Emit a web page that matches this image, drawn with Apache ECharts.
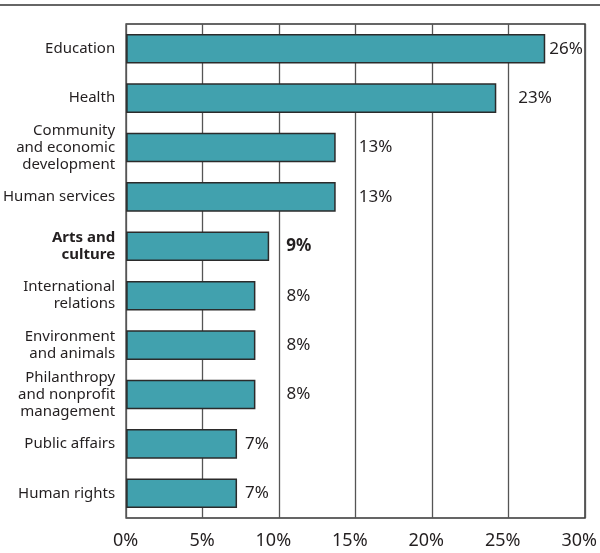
<!DOCTYPE html>
<html>
<head>
<meta charset="utf-8">
<script src="https://cdn.jsdelivr.net/npm/echarts@6/dist/echarts.min.js"></script>
<style>
html,body{margin:0;padding:0;background:#fff;}
#chart{width:600px;height:553px;}
</style>
</head>
<body>
<div id="chart"></div>
<script>
// ---- data ----
var categories = [
  'Education',
  'Health',
  'Community\nand economic\ndevelopment',
  'Human services',
  'Arts and\nculture',
  'International\nrelations',
  'Environment\nand animals',
  'Philanthropy\nand nonprofit\nmanagement',
  'Public affairs',
  'Human rights'
];
var barValues = [27.4, 24.2, 13.7, 13.7, 9.35, 8.45, 8.45, 8.45, 7.25, 7.25];
var shareLabels = ['26%', '23%', '13%', '13%', '9%', '8%', '8%', '8%', '7%', '7%'];
var highlightCategory = 'Arts and\nculture';
var xTickValues = [0, 5, 10, 15, 20, 25, 30];

// ---- styling ----
var labelGaps = [4, 22, 23, 23, 17, 31, 31, 31, 8, 8];
var FONT = '"Noto Sans", "Open Sans", sans-serif';
var TEXT = '#231f20';

var seriesData = barValues.map(function (v, i) {
  var bold = categories[i] === highlightCategory;
  return {
    value: v,
    label: {
      distance: labelGaps[i],
      fontWeight: bold ? 'bold' : 'normal'
    }
  };
});

var chart = echarts.init(document.getElementById('chart'), null, {renderer: 'canvas'});
chart.setOption({
  animation: false,
  backgroundColor: '#fff',
  textStyle: {fontFamily: FONT},
  grid: {
    left: 125, right: 13, top: 24, bottom: 35,
    show: true, borderColor: '#333', borderWidth: 1.5, backgroundColor: 'transparent'
  },
  graphic: [{
    type: 'line',
    shape: {x1: 0, y1: 5, x2: 600, y2: 5},
    style: {stroke: '#333', lineWidth: 1.5}
  }],
  xAxis: {
    type: 'value',
    min: xTickValues[0],
    max: xTickValues[xTickValues.length - 1],
    interval: 5,
    axisLine: {show: false},
    axisTick: {show: false},
    splitLine: {show: true, lineStyle: {color: '#555', width: 1.3}},
    axisLabel: {
      formatter: function (v) { return v + '%'; },
      fontFamily: FONT, fontSize: 18, color: TEXT,
      margin: 14,
      align: 'right',
      padding: [0, -12, 0, 0]
    }
  },
  yAxis: {
    type: 'category',
    data: categories,
    inverse: true,
    axisLine: {show: false},
    axisTick: {show: false},
    splitLine: {show: false},
    axisLabel: {
      margin: 11,
      fontFamily: FONT, fontSize: 15, color: TEXT, lineHeight: 17,
      formatter: function (v) {
        if (v === highlightCategory) {
          return v.split('\n').map(function (s) { return '{b|' + s + '}'; }).join('\n');
        }
        return v;
      },
      rich: {
        b: {fontFamily: FONT, fontSize: 15, fontWeight: 'bold', color: TEXT, lineHeight: 17, align: 'right'}
      }
    }
  },
  series: [{
    type: 'bar',
    data: seriesData,
    barCategoryGap: '40%',
    itemStyle: {color: '#41a1ae', borderColor: '#2b2b2b', borderWidth: 1.5},
    label: {
      show: true,
      position: 'right',
      fontFamily: FONT, fontSize: 17, color: TEXT,
      formatter: function (p) { return shareLabels[p.dataIndex]; }
    }
  }]
});
</script>
</body>
</html>
